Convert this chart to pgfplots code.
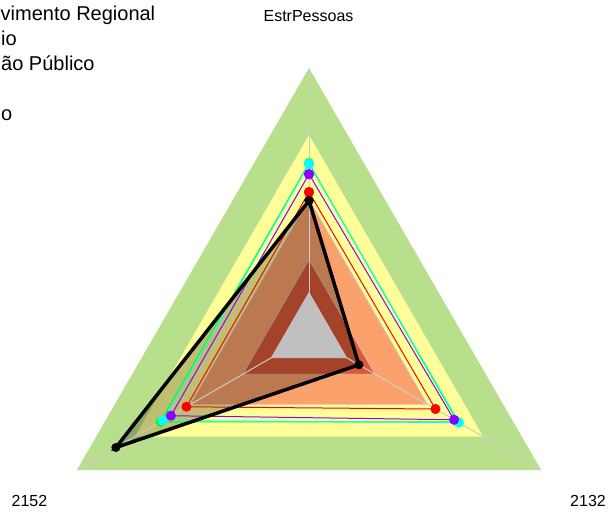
\documentclass[border=0pt]{standalone}
\usepackage{pgfplots}
\pgfplotsset{compat=1.18}
\usepgfplotslibrary{polar}
\usepackage{fontspec}
\setmainfont{Liberation Sans}
\definecolor{bgreen}{HTML}{B8E08C}
\definecolor{byellow}{HTML}{FFFF99}
\definecolor{borange}{HTML}{FBA26C}
\definecolor{bred}{HTML}{DC5A38}
\definecolor{bgray}{HTML}{C0C0C0}
\definecolor{gridgray}{HTML}{CCCCCC}
\definecolor{spurple}{HTML}{8B00FF}
\definecolor{scyan}{HTML}{00FFFF}
\definecolor{sgreen}{HTML}{00FF00}
\definecolor{sred}{HTML}{FF0000}
\begin{document}
\begin{tikzpicture}
\begin{polaraxis}[scale only axis, width=536pt, height=536pt,
  ymin=0, ymax=1, xmin=0, xmax=360, hide axis, clip=false]
% bands
\addplot[draw=none, fill=bgreen] coordinates {(90,1) (210,1) (330,1) (90,1)};
\addplot[draw=none, fill=byellow] coordinates {(90,0.75) (210,0.75) (330,0.75) (90,0.75)};
\addplot[draw=gridgray, line width=0.6pt, fill=borange] coordinates {(90,0.51) (210,0.51) (330,0.51) (90,0.51)};
\addplot[draw=gridgray, line width=0.6pt, fill=bred] coordinates {(90,0.285) (210,0.285) (330,0.285) (90,0.285)};
% translucent fill of the black series
\addplot[draw=none, fill=black, fill opacity=0.25] coordinates {(90,0.505) (330,0.215) (210,0.832) (90,0.505)};
% radial axes
\addplot[gridgray, line width=1pt] coordinates {(90,0) (90,1)};
\addplot[gridgray, line width=1pt] coordinates {(210,0) (210,1)};
\addplot[gridgray, line width=1pt] coordinates {(330,0) (330,1)};
\addplot[draw=gridgray, line width=0.6pt, fill=bgray] coordinates {(90,0.162) (210,0.162) (330,0.162) (90,0.162)};
% series
\addplot[sgreen, line width=1pt, mark=*, mark size=4.5pt] coordinates {(90,0.645) (330,0.640) (210,0.640) (90,0.645)};
\addplot[scyan, line width=1pt, mark=*, mark size=4.5pt] coordinates {(90,0.642) (330,0.646) (210,0.632) (90,0.642)};
\addplot[spurple, line width=1pt, mark=*, mark size=4.5pt] coordinates {(90,0.604) (330,0.625) (210,0.595) (90,0.604)};
\addplot[sred, line width=1pt, mark=*, mark size=4.5pt] coordinates {(90,0.537) (330,0.545) (210,0.528) (90,0.537)};
\addplot[black, line width=3.5pt, mark=*, mark size=4pt, mark options={line width=1pt}] coordinates {(90,0.505) (330,0.215) (210,0.832) (90,0.505)};
\coordinate (C) at (axis cs:0,0);
\end{polaraxis}
\pgfresetboundingbox
\path[use as bounding box, shift={(C)}] (-309pt,-176pt) rectangle (300pt,336pt);
\begin{scope}[shift={(C)}]
\node[anchor=base, inner sep=0pt, font=\fontsize{16}{19}\selectfont] at (-0.5pt,314pt) {EstrPessoas};
\node[anchor=base, inner sep=0pt, font=\fontsize{16}{19}\selectfont] at (-279.5pt,-170pt) {2152};
\node[anchor=base, inner sep=0pt, font=\fontsize{16}{19}\selectfont] at (279pt,-170pt) {2132};
\node[anchor=base west, inner sep=0pt, font=\fontsize{20}{24}\selectfont] at (-308.5pt,315pt) {vimento Regional};
\node[anchor=base west, inner sep=0pt, font=\fontsize{20}{24}\selectfont] at (-308pt,290pt) {io};
\node[anchor=base west, inner sep=0pt, font=\fontsize{20}{24}\selectfont] at (-308pt,265pt) {ão Público};
\node[anchor=base west, inner sep=0pt, font=\fontsize{20}{24}\selectfont] at (-308pt,215pt) {o};
\end{scope}
\end{tikzpicture}
\end{document}
